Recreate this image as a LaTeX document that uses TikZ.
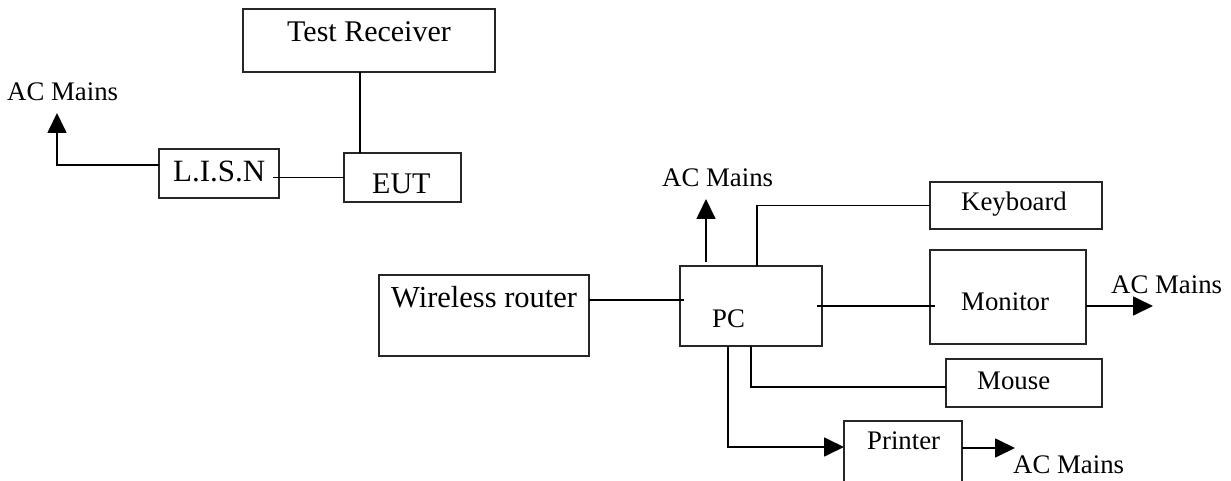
\documentclass[tikz,border=0pt]{standalone}
\usepackage{fontspec}
\setmainfont{Liberation Serif}
\usetikzlibrary{arrows.meta,calc}
\begin{document}
\begin{tikzpicture}[x=1pt,y=-1pt,
  box/.style={draw=black!85,line width=1.5pt,inner sep=0pt,outer sep=0pt,rectangle},
  wire/.style={line width=1.7pt,black},
  arr/.style={wire,-{Triangle[length=20pt,width=19pt]}},
  bigtxt/.style={inner sep=0pt,anchor=base west,font=\fontsize{30}{36}\selectfont},
  smalltxt/.style={inner sep=0pt,anchor=base west,font=\fontsize{26.8}{32}\selectfont}]
\useasboundingbox (0,0) rectangle (1231,481);
\clip (0,0) rectangle (1231,481);
% boxes
\node[box,minimum width=252pt,minimum height=63pt] (tr) at (369,40.5) {};
\node[box,minimum width=117pt,minimum height=49pt] (eut) at (402.5,177.5) {};
\node[box,minimum width=120pt,minimum height=49pt] (lisn) at (219,173.5) {};
\node[box,minimum width=210pt,minimum height=81pt] (router) at (484,315.5) {};
\node[box,minimum width=142pt,minimum height=80pt] (pc) at (751,306) {};
\node[box,minimum width=172pt,minimum height=47pt] (kb) at (1016,205.5) {};
\node[box,minimum width=156pt,minimum height=94pt] (mon) at (1008,297) {};
\node[box,minimum width=156pt,minimum height=48pt] (mouse) at (1024,383) {};
\node[box,minimum width=118pt,minimum height=80pt] (prn) at (903,461) {};
% texts
\node[bigtxt] (trt) at (287,42) {Test Receiver};
\node[bigtxt,font=\fontsize{31}{36}\selectfont] (lisnt) at (173,182) {L.I.S.N};
\node[bigtxt] (eutt) at (372,194) {EUT};
\node[bigtxt,font=\fontsize{30.5}{36}\selectfont] (routert) at (391,307) {Wireless router};
\node[smalltxt] (pct) at (712,327) {PC};
\node[smalltxt] (kbt) at (961,211) {Keyboard};
\node[smalltxt] (mont) at (961,310) {Monitor};
\node[smalltxt] (mouset) at (977,389) {Mouse};
\node[smalltxt] (prnt) at (867,449) {Printer};
\node[smalltxt] (acl) at (7,101) {AC Mains};
\node[smalltxt] (act) at (662,187) {AC Mains};
\node[smalltxt] (acr) at (1111,293) {AC Mains};
\node[smalltxt] (acb) at (1013,473) {AC Mains};
% free ends
\coordinate (a1) at ([xshift=16pt]eut.north west);
\coordinate (acltip) at (57,113);
\coordinate (pctip) at (706,199);
\coordinate (montip) at (1153,306);
\coordinate (prntip) at (1015,448);
\coordinate (rt) at ([yshift=15.5pt]router.east);
% connectors
\draw[wire] (a1 |- tr.south) -- (a1);
\draw[wire] ([xshift=-6pt]lisn.east |- eut.west) -- (eut.west);
\draw[arr] ([yshift=8.5pt]lisn.west) -| (acltip);
\draw[wire] (rt) -- ([xshift=4pt]rt -| pc.west);
\draw[arr] ([yshift=4pt]pctip |- pc.north) -- (pctip);
\draw[wire] ([xshift=77pt]pc.north west) |- (kb.west);
\draw[wire] ([xshift=-5pt]pc.east) -- ([xshift=5pt,yshift=-9pt]mon.west);
\draw[arr] (mon.east |- montip) -- (montip);
\draw[wire] (pc.south) |- ([yshift=-4pt]mouse.west);
\draw[arr] ([xshift=48pt]pc.south west) |- ([yshift=14pt]prn.west);
\draw[arr] (prn.east |- prntip) -- (prntip);
\end{tikzpicture}
\end{document}
